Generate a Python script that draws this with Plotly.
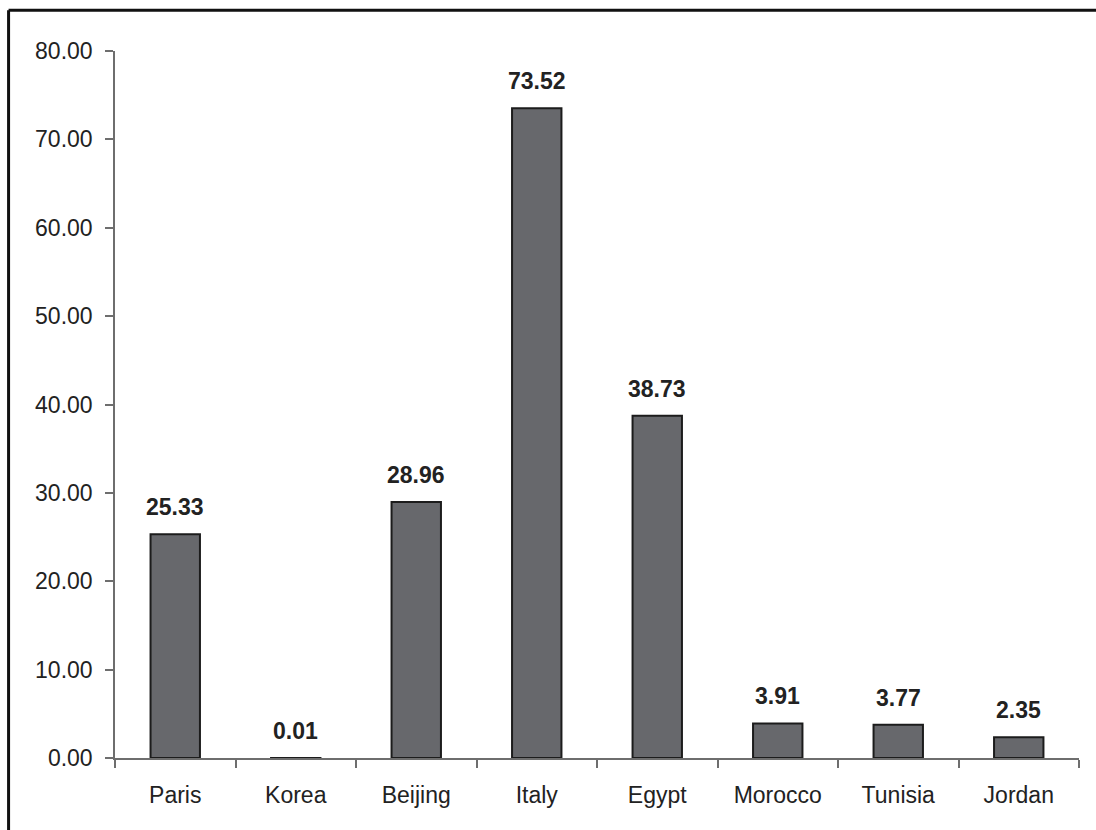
import plotly.graph_objects as go

# Values per location
locations = ["Paris", "Korea", "Beijing", "Italy", "Egypt", "Morocco", "Tunisia", "Jordan"]
values = [25.33, 0.01, 28.96, 73.52, 38.73, 3.91, 3.77, 2.35]
y_ticks = [0, 10, 20, 30, 40, 50, 60, 70, 80]
y_tick_labels = [f"{v:.2f}" for v in y_ticks]

FONT = "Liberation Sans, Arial, sans-serif"
TEXT = "#222222"
AXIS = "#6e6e6e"

fig = go.Figure()
fig.add_trace(go.Bar(
    x=locations,
    y=values,
    width=0.41,
    marker=dict(color="#67686c", line=dict(color="#1c1c1c", width=2)),
    hoverinfo="x+y",
))

# Bold value labels above each bar
for loc, v in zip(locations, values):
    fig.add_annotation(
        x=loc, y=v, text=f"<b>{v:.2f}</b>",
        xref="x", yref="y", showarrow=False,
        yanchor="bottom", yshift=12,
        font=dict(family=FONT, size=23, color=TEXT),
    )

# Outer frame: left and top edges (the others run off the page)
frame = dict(color="#111111", width=3)
fig.add_shape(type="line", xref="paper", yref="paper",
              x0=-0.1104, x1=-0.1104, y0=-0.3, y1=1.0576, line=frame)
fig.add_shape(type="line", xref="paper", yref="paper",
              x0=-0.1104, x1=1.3, y0=1.0576, y1=1.0576, line=frame)

fig.update_layout(
    width=1096, height=830,
    margin=dict(l=115, r=17, t=51, b=72),
    paper_bgcolor="white", plot_bgcolor="white",
    showlegend=False,
    font=dict(family=FONT, size=23, color=TEXT),
    bargap=0.59,
)
fig.update_xaxes(
    type="category",
    showline=True, linecolor=AXIS, linewidth=1.5,
    ticks="outside", tickson="boundaries", ticklen=8, tickcolor=AXIS, tickwidth=1.5,
    ticklabelstandoff=16,
    showgrid=False, zeroline=False,
    tickfont=dict(family=FONT, size=23, color=TEXT),
)
fig.update_yaxes(
    range=[0, 80],
    tickvals=y_ticks, ticktext=y_tick_labels,
    showline=True, linecolor=AXIS, linewidth=1.5,
    ticks="outside", ticklen=8, tickcolor=AXIS, tickwidth=1.5,
    ticklabelstandoff=8,
    showgrid=False, zeroline=False,
    tickfont=dict(family=FONT, size=23, color=TEXT),
)

fig.write_html("out.html")
